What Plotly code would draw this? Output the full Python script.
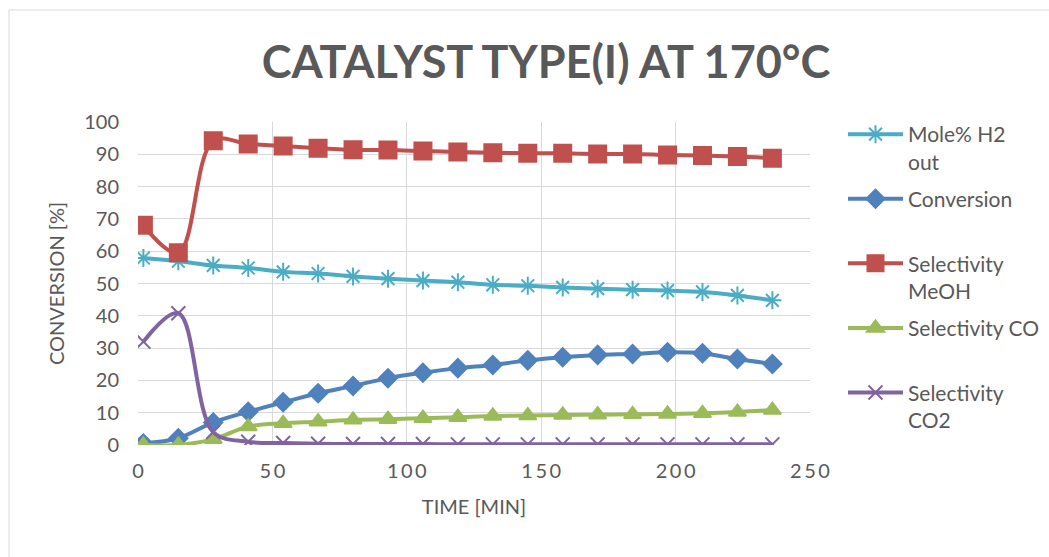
import plotly.graph_objects as go

time_min = [2, 15, 28, 41, 54, 67, 80, 93, 106, 119, 132, 145, 158, 171, 184, 197, 210, 223, 236]
mole_h2_out = [57.9, 56.9, 55.6, 54.8, 53.6, 53.1, 52.2, 51.5, 50.9, 50.4,
               49.6, 49.3, 48.8, 48.4, 48.1, 47.8, 47.4, 46.3, 44.8]
conversion = [0.5, 2.1, 7.0, 10.3, 13.2, 16.0, 18.3, 20.7, 22.4, 23.8,
              24.8, 26.2, 27.2, 27.9, 28.2, 28.7, 28.4, 26.6, 25.1]
sel_meoh = [68.0, 59.5, 94.2, 93.2, 92.6, 91.9, 91.4, 91.3, 91.0, 90.7,
            90.5, 90.3, 90.3, 90.1, 90.1, 89.8, 89.6, 89.3, 88.8]
sel_co = [0.0, 0.0, 1.8, 5.7, 6.7, 7.2, 7.8, 8.0, 8.3, 8.6,
          9.0, 9.1, 9.3, 9.4, 9.5, 9.6, 9.8, 10.2, 10.8]
sel_co2 = [32.0, 40.8, 4.0, 1.0, 0.6, 0.4, 0.3, 0.3, 0.3, 0.2,
           0.2, 0.2, 0.2, 0.2, 0.2, 0.2, 0.2, 0.2, 0.2]

series_names = ["Mole% H2<br>out", "Conversion<br>\u00a0", "Selectivity<br>MeOH",
                "Selectivity CO<br>\u00a0", "Selectivity<br>CO2"]
x_tick_vals = [0, 50, 100, 150, 200, 250]
x_tick_text = ["0", "5\u20090", "1\u20090\u20090", "1\u20095\u20090", "2\u20090\u20090", "2\u20095\u20090"]
y_tick_vals = list(range(0, 101, 10))

FONT = "Lato"
TXT = "#595959"

styles = [
    dict(color="#4BACC6", symbol="asterisk-open", size=15),
    dict(color="#4F81BD", symbol="diamond", size=14),
    dict(color="#C0504D", symbol="square", size=17),
    dict(color="#9BBB59", symbol="triangle-up", size=15),
    dict(color="#8064A2", symbol="x-thin-open", size=14),
]
data = [mole_h2_out, conversion, sel_meoh, sel_co, sel_co2]

fig = go.Figure()
for i, (name, ys, st) in enumerate(zip(series_names, data, styles)):
    fig.add_trace(go.Scatter(
        x=time_min, y=ys, name=name, mode="lines+markers",
        legendgroup=f"g{i}",
        line=dict(color=st["color"], width=4, shape="spline", smoothing=1),
        marker=dict(color=st["color"], symbol=st["symbol"], size=st["size"],
                    line=dict(color=st["color"], width=2)),
    ))

# outer chart border
fig.add_shape(type="rect", xref="paper", yref="paper",
              x0=(9 - 138) / 672, x1=(1070 - 138) / 672,
              y0=(445 - 580) / 323, y1=(445 - 10) / 323,
              line=dict(color="#d9d9d9", width=1), fillcolor="rgba(0,0,0,0)", layer="below")

fig.update_layout(
    width=1049, height=557,
    margin=dict(l=138, r=239, t=122, b=112, autoexpand=False),
    paper_bgcolor="white", plot_bgcolor="white",
    font=dict(family=FONT, color=TXT, size=20),
    title=dict(text="<b>CATALYST TYPE(I) AT 170°C</b>", x=546 / 1049, xanchor="center",
               y=1 - 62 / 557, yanchor="middle", xref="container", yref="container",
               font=dict(family=FONT, size=45, color=TXT)),
    showlegend=True,
    legend=dict(x=(843 - 138) / 672, y=(445 - 114) / 323, xanchor="left", yanchor="top",
                font=dict(family=FONT, size=21, color=TXT), valign="top",
                tracegroupgap=7, itemwidth=55, bgcolor="rgba(0,0,0,0)", maxheight=600),
    xaxis=dict(range=[0, 250], tickvals=x_tick_vals, ticktext=x_tick_text,
               showgrid=True, gridcolor="#d9d9d9", gridwidth=1, zeroline=False,
               showline=False, ticks="", ticklabelstandoff=12,
               tickfont=dict(size=20, color=TXT),
               title=dict(text="TIME [MIN]", font=dict(size=20, color=TXT), standoff=18)),
    yaxis=dict(range=[0, 100], tickvals=y_tick_vals,
               showgrid=True, gridcolor="#d9d9d9", gridwidth=1, zeroline=False,
               showline=False, ticks="", ticklabelstandoff=18,
               tickfont=dict(size=20, color=TXT),
               title=dict(text="CONVERSION [%]", font=dict(size=20, color=TXT), standoff=14)),
)

fig.write_html("out.html")
